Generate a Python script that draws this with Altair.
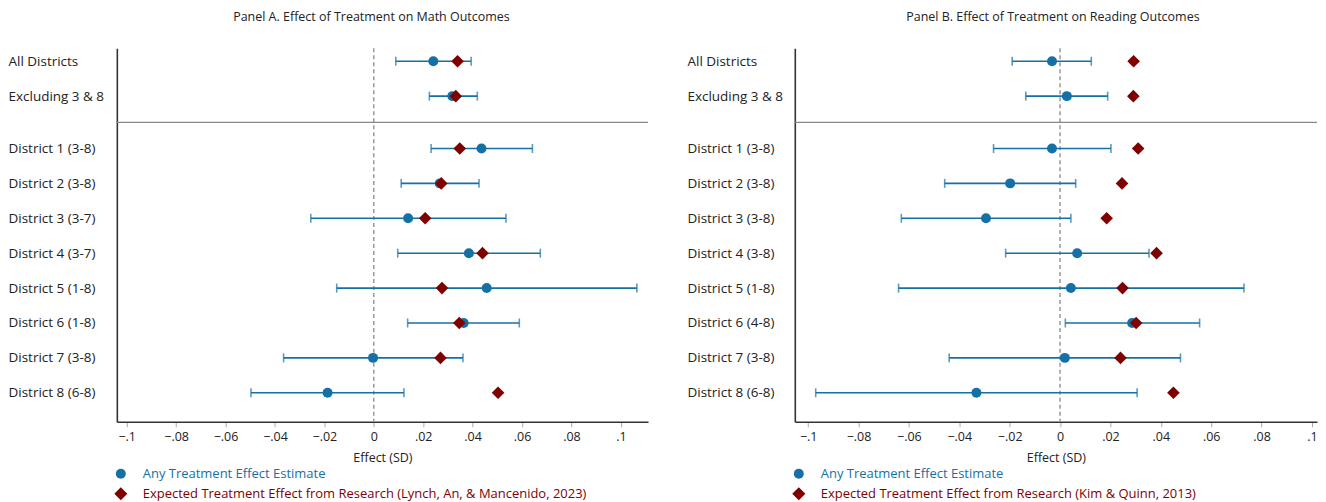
import altair as alt
import pandas as pd

rows = ["All Districts", "Excluding 3 & 8", "District 1 (3-8)", "District 2 (3-8)",
        "District 3 (3-7)", "District 4 (3-7)", "District 5 (1-8)", "District 6 (1-8)",
        "District 7 (3-8)", "District 8 (6-8)"]
rows_b = ["All Districts", "Excluding 3 & 8", "District 1 (3-8)", "District 2 (3-8)",
          "District 3 (3-8)", "District 4 (3-8)", "District 5 (1-8)", "District 6 (4-8)",
          "District 7 (3-8)", "District 8 (6-8)"]

# Panel A (math)
est_a = [0.0241, 0.0318, 0.0436, 0.0267, 0.0139, 0.0385, 0.0457, 0.0364, -0.0003, -0.0187]
lo_a = [0.0089, 0.0225, 0.0232, 0.0111, -0.0255, 0.0097, -0.0150, 0.0137, -0.0365, -0.0497]
hi_a = [0.0394, 0.0419, 0.0642, 0.0426, 0.0535, 0.0674, 0.1065, 0.0589, 0.0361, 0.0122]
exp_a = [0.0339, 0.0332, 0.0348, 0.0273, 0.0208, 0.0440, 0.0276, 0.0346, 0.0270, 0.0503]

# Panel B (reading)
est_b = [-0.0032, 0.0027, -0.0032, -0.0198, -0.0294, 0.0068, 0.0043, 0.0286, 0.0019, -0.0332]
lo_b = [-0.0190, -0.0136, -0.0264, -0.0458, -0.0630, -0.0216, -0.0641, 0.0021, -0.0440, -0.0970]
hi_b = [0.0124, 0.0189, 0.0202, 0.0062, 0.0043, 0.0353, 0.0730, 0.0554, 0.0478, 0.0306]
exp_b = [0.0292, 0.0291, 0.0310, 0.0246, 0.0185, 0.0383, 0.0248, 0.0302, 0.0240, 0.0450]

tick_vals = [-0.1, -0.08, -0.06, -0.04, -0.02, 0, 0.02, 0.04, 0.06, 0.08, 0.1]
legend_est = "Any Treatment Effect Estimate"
legend_exp_a = "Expected Treatment Effect from Research (Lynch, An, & Mancenido, 2023)"
legend_exp_b = "Expected Treatment Effect from Research (Kim & Quinn, 2013)"
title_a = "Panel A. Effect of Treatment on Math Outcomes"
title_b = "Panel B. Effect of Treatment on Reading Outcomes"

BLUE = "#1570a6"
RED = "#800000"
FONT = "Open Sans"
TXT = "#222222"

# row positions: first two summary rows, gap, then districts
pos = [i if i < 2 else i + 0.5 for i in range(len(rows))]
sep_pos = (pos[1] + pos[2]) / 2


def panel(labels, est, lo, hi, exp, title, exp_label, xdom, width, label_pad, title_dx):
    df = pd.DataFrame({"label": labels, "pos": pos, "est": est, "lo": lo, "hi": hi, "exp": exp})
    arr = "[" + ",".join("'" + l.replace("'", "\\'") + "'" for l in labels) + "]"
    label_expr = f"{arr}[datum.value < 2 ? datum.value : datum.value - 0.5]"
    yscale = alt.Scale(domain=[-0.37, 10.33], reverse=True, nice=False, zero=False)
    xscale = alt.Scale(domain=xdom, nice=False, zero=False)
    yaxis = alt.Axis(values=pos, labelExpr=label_expr, labelAlign="left", labelPadding=label_pad,
                     ticks=False, grid=False, title=None, domainColor="#333333", domainWidth=1.6,
                     labelFont=FONT, labelFontSize=13.5, labelColor=TXT)
    xaxis = alt.Axis(values=tick_vals, labelExpr="replace(format(datum.value, '.2~f'), '0.', '.')",
                     grid=False, title="Effect (SD)", tickColor="#aaaaaa", tickSize=5,
                     domainColor="#333333", domainWidth=1.6, labelFont=FONT, labelFontSize=12.5,
                     labelColor=TXT, titleFont=FONT, titleFontSize=12.5, titleFontWeight="normal",
                     titleColor=TXT, labelPadding=4, titlePadding=8)
    base = alt.Chart(df)
    bars = base.mark_rule(color=BLUE, strokeWidth=1.6).encode(
        y=alt.Y("pos:Q", scale=yscale, axis=yaxis),
        x=alt.X("lo:Q", scale=xscale, axis=xaxis),
        x2="hi:Q")
    cap_lo = base.mark_tick(color=BLUE, orient="vertical", size=9, thickness=1.6).encode(
        y="pos:Q", x="lo:Q")
    cap_hi = base.mark_tick(color=BLUE, orient="vertical", size=9, thickness=1.6).encode(
        y="pos:Q", x="hi:Q")
    pts = base.mark_point(shape="circle", filled=True, color=BLUE, size=100, opacity=1).encode(
        y="pos:Q", x="est:Q")
    dia = base.mark_point(shape="diamond", filled=True, color=RED, size=160, opacity=1).encode(
        y="pos:Q", x="exp:Q")
    zero = alt.Chart(pd.DataFrame({"z": [0]})).mark_rule(color="#999999", strokeWidth=1.5,
                                                         strokeDash=[4, 3]).encode(x="z:Q")
    sep = alt.Chart(pd.DataFrame({"s": [sep_pos]})).mark_rule(color="#888888", strokeWidth=1.2).encode(
        y="s:Q")
    main = alt.layer(zero, sep, bars, cap_lo, cap_hi, pts, dia).properties(
        width=width, height=374,
        title=alt.TitleParams(title, font=FONT, fontSize=12.5, fontWeight="normal", color=TXT,
                              anchor="middle", offset=24, dx=title_dx))

    ldf = pd.DataFrame({"name": [legend_est, exp_label], "shape": ["circle", "diamond"],
                        "col": [BLUE, RED], "sz": [100, 170]})
    ly = alt.Y("name:N", sort=[legend_est, exp_label], axis=None,
               scale=alt.Scale(paddingInner=0, paddingOuter=0))
    lbase = alt.Chart(ldf)
    lmark = lbase.mark_point(filled=True, opacity=1).encode(
        y=ly, x=alt.value(4),
        shape=alt.Shape("shape:N", scale=None),
        color=alt.Color("col:N", scale=None),
        size=alt.Size("sz:Q", scale=None))
    ltext = lbase.mark_text(align="left", baseline="middle", font=FONT, fontSize=13).encode(
        y=ly, x=alt.value(26), text="name:N", color=alt.Color("col:N", scale=None))
    leg = alt.layer(lmark, ltext).properties(width=width, height=40)
    return alt.vconcat(main, leg, spacing=0)


pa = panel(rows, est_a, lo_a, hi_a, exp_a, title_a, legend_exp_a, [-0.104, 0.111], 532, 109, -11)
pb = panel(rows_b, est_b, lo_b, hi_b, exp_b, title_b, legend_exp_b, [-0.1053, 0.102], 523, 108, -3)

chart = alt.hconcat(pa, pb, spacing=38).properties(
    padding={"left": 0, "top": 2, "right": 0, "bottom": 0}).configure_view(stroke=None)
chart.save("out.html", embed_options={"renderer": "svg", "actions": False})
